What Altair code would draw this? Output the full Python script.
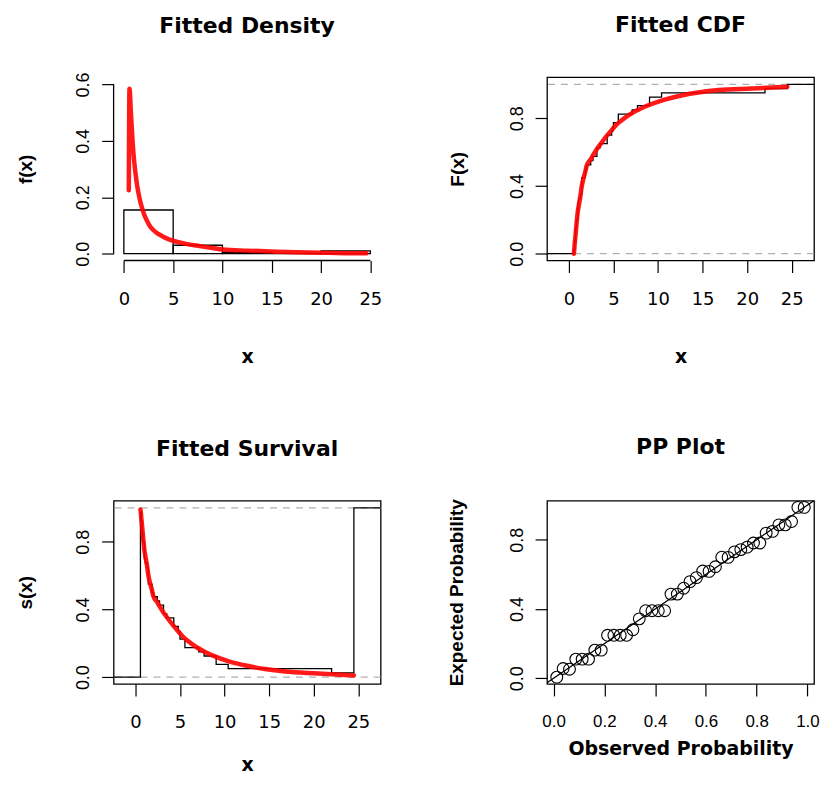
import altair as alt
import pandas as pd

# ---------------- data ----------------
# sorted sample (n = 40), read from the ECDF / survival steps and the PP plot
sample = [0.56, 0.65, 0.65, 0.75, 0.75, 0.75, 0.84, 0.84, 1.0, 1.0,
          1.0, 1.0, 1.1, 1.3, 1.45, 1.45, 1.45, 1.45, 1.85, 1.85,
          2.0, 2.45, 2.7, 3.15, 3.15, 3.5, 4.3, 4.3, 4.8, 4.95,
          5.0, 5.55, 5.55, 7.1, 7.7, 9.05, 9.05, 10.4, 22.0, 24.5]

# histogram (density scale)
hist_left = [0, 5, 10, 15, 20]
hist_right = [5, 10, 15, 20, 25]
hist_density = [0.155, 0.030, 0.005, 0.0, 0.010]

# fitted density curve
dens_x = [0.5, 0.53, 0.57, 0.62, 0.7, 0.8, 0.9, 1.04, 1.2, 1.37, 1.6, 1.81, 2.05, 2.31,
          2.6, 2.98, 3.5, 3.99, 4.5, 5.0, 6.3, 7.68, 9.0, 10.03, 12.5, 14.9, 17.5,
          19.95, 22.5, 24.6]
dens_y = [0.225, 0.45, 0.585, 0.57, 0.51, 0.448, 0.39, 0.33, 0.28, 0.236, 0.195, 0.166,
          0.14, 0.119, 0.1, 0.084, 0.07, 0.06, 0.052, 0.046, 0.035, 0.027, 0.02, 0.015,
          0.011, 0.008, 0.005, 0.0035, 0.002, 0.0015]

# fitted CDF curve
cdf_x = [0.56, 0.60, 0.65, 0.75, 0.86, 1.0, 1.1, 1.3, 1.42, 1.68, 1.85, 2.0, 2.45, 2.7,
         3.15, 3.5, 4.3, 4.8, 5.4, 5.75, 6.9, 7.7, 8.76, 10.4, 12.5, 14.5, 16.8, 20.5, 24.5]
cdf_y = [0.0, 0.02, 0.055, 0.11, 0.175, 0.248, 0.28, 0.343, 0.39, 0.453, 0.486, 0.52,
         0.558, 0.581, 0.619, 0.644, 0.699, 0.73, 0.765, 0.781, 0.825, 0.848, 0.874,
         0.905, 0.933, 0.952, 0.967, 0.976, 0.986]

# fitted survival curve
surv_x = [0.56, 0.60, 0.65, 0.75, 0.86, 1.0, 1.1, 1.3, 1.42, 1.68, 1.85, 2.0, 2.45, 2.7,
          3.15, 3.5, 4.3, 4.8, 5.4, 5.75, 6.9, 7.7, 8.76, 10.4, 12.5, 14.5, 16.8, 20.5, 24.5]
surv_y = [0.99, 0.975, 0.945, 0.89, 0.825, 0.752, 0.72, 0.657, 0.61, 0.547, 0.514, 0.48,
          0.442, 0.419, 0.381, 0.356, 0.301, 0.27, 0.235, 0.219, 0.175, 0.152, 0.126,
          0.095, 0.067, 0.048, 0.033, 0.022, 0.01]

# PP plot
pp_obs = [0.0125, 0.0375, 0.0625, 0.0875, 0.1125, 0.1375, 0.1625, 0.1875, 0.2125, 0.2375,
          0.2625, 0.2875, 0.3125, 0.3375, 0.3625, 0.3875, 0.4125, 0.4375, 0.4625, 0.4875,
          0.5125, 0.5375, 0.5625, 0.5875, 0.6125, 0.6375, 0.6625, 0.6875, 0.7125, 0.7375,
          0.7625, 0.7875, 0.8125, 0.8375, 0.8625, 0.8875, 0.9125, 0.9375, 0.9625, 0.9875]
pp_exp = [0.006, 0.056, 0.052, 0.11, 0.11, 0.11, 0.162, 0.162, 0.248, 0.248,
          0.248, 0.248, 0.28, 0.343, 0.39, 0.39, 0.39, 0.39, 0.486, 0.486,
          0.52, 0.558, 0.581, 0.619, 0.617, 0.644, 0.699, 0.698, 0.73, 0.743,
          0.757, 0.781, 0.781, 0.838, 0.848, 0.886, 0.886, 0.905, 0.987, 0.987]

# ---------------- derived tables ----------------
N = len(sample)
uniq = sorted(set(sample))
cnt = [sum(1 for s in sample if s <= u) for u in uniq]

XL, XR = -2.45, 27.5
ecdf_df = pd.DataFrame({"x": [XL] + uniq + [XR],
                        "y": [0.0] + [c / N for c in cnt] + [1.0]})
# survival step as drawn in the reference (jumps back to 1 at the maximum)
sv = [1 - c / N for c in cnt]
sv[-1] = 1.0
surv_step_df = pd.DataFrame({"x": [XL] + uniq + [XR], "y": [0.0] + sv + [1.0]})

hist_df = pd.DataFrame({"a": hist_left, "b": hist_right, "d": hist_density})
dens_df = pd.DataFrame({"x": dens_x, "y": dens_y})
cdf_df = pd.DataFrame({"x": cdf_x, "y": cdf_y})
surv_df = pd.DataFrame({"x": surv_x, "y": surv_y})
pp_df = pd.DataFrame({"o": pp_obs, "e": pp_exp})
ref_df = pd.DataFrame({"h": [0.0, 1.0]})
diag_df = pd.DataFrame({"x": [-0.1, 1.1], "y": [-0.1, 1.1]})

# ---------------- styling ----------------
W, H = 268, 184
RED = "#ff0000"
XFONT = "DejaVu Sans"
YFONT = "Liberation Sans"


def title(t, off=23):
    return alt.TitleParams(t, font=XFONT, fontSize=22, fontWeight="bold", color="black",
                           anchor="middle", frame="group", baseline="alphabetic", offset=off)


def xaxis(vals, fmt, ttl, ty=96, lfont=XFONT, lsize=18):
    return alt.Axis(values=vals, format=fmt, title=ttl, grid=False, domain=False,
                    ticks=True, tickSize=12, tickColor="black", tickWidth=1.2,
                    labelFont=lfont, labelFontSize=lsize, labelColor="black", labelPadding=18,
                    labelFlush=False, labelOverlap=False,
                    titleFont=XFONT, titleFontSize=19, titleFontWeight="bold",
                    titleColor="black", titleX=W / 2, titleY=ty, titleBaseline="middle",
                    titleAlign="center")


def yaxis(vals, fmt, ttl, expr, tx=-89):
    return alt.Axis(values=vals, format=fmt, title=ttl, grid=False, domain=False,
                    ticks=True, tickSize=12, tickColor="black", tickWidth=1.2,
                    labelFont=YFONT, labelFontSize=18, labelColor="black", labelPadding=9,
                    labelAngle=270, labelAlign="center", labelBaseline="bottom",
                    labelExpr=expr, labelFlush=False, labelOverlap=False,
                    titleFont=YFONT, titleFontSize=19, titleFontWeight="bold",
                    titleColor="black", titleAngle=270, titleX=tx, titleY=H / 2,
                    titleBaseline="middle", titleAlign="center")


xticks25 = [0, 5, 10, 15, 20, 25]
BOX = alt.ViewBackground(stroke="black", strokeWidth=1.3)
NOBOX = alt.ViewBackground(stroke="transparent", strokeWidth=0)

# ---------------- panel 1: fitted density ----------------
xs1 = alt.Scale(domain=[-1.04, 26.04], nice=False, zero=False)
ys1 = alt.Scale(domain=[-0.024, 0.626], nice=False, zero=False)
bars = alt.Chart(hist_df).mark_rect(fill="transparent", stroke="black", strokeWidth=1.3).encode(
    x=alt.X("a:Q", scale=xs1, axis=xaxis(xticks25, "d", "x")),
    x2="b:Q",
    y=alt.Y("d:Q", scale=ys1,
            axis=yaxis([0, 0.1, 0.2, 0.3, 0.4, 0.5, 0.6], ".1f", "f(x)",
                       "round(datum.value*10) % 2 == 0 ? datum.label : ''", tx=-88)),
    y2=alt.datum(0),
)
dens = alt.Chart(dens_df).mark_line(color=RED, strokeWidth=4.5, opacity=0.9,
                                    interpolate="monotone", strokeCap="round").encode(
    x=alt.X("x:Q", scale=xs1), y=alt.Y("y:Q", scale=ys1))
axx_df = pd.DataFrame({"a": [0], "b": [25]})
axy_df = pd.DataFrame({"a": [0.0], "b": [0.6]})
xline = alt.Chart(axx_df).mark_rule(color="black", strokeWidth=1.3).encode(
    x=alt.X("a:Q", scale=xs1), x2="b:Q", y=alt.value(H))
yline = alt.Chart(axy_df).mark_rule(color="black", strokeWidth=1.3).encode(
    y=alt.Y("a:Q", scale=ys1), y2="b:Q", x=alt.value(0))
p1 = alt.layer(bars, xline, yline, dens).properties(
    width=W, height=H, title=title("Fitted Density", off=17), view=NOBOX)

# ---------------- panel 2: fitted CDF ----------------
xs2 = alt.Scale(domain=[XL, XR], nice=False, zero=False)
ys2 = alt.Scale(domain=[-0.04, 1.043], nice=False, zero=False)
ylab = "round(datum.value*10) % 4 == 0 ? datum.label : ''"
ref2 = alt.Chart(ref_df).mark_rule(color="#b0b0b0", strokeDash=[7, 6], strokeWidth=1.3).encode(
    y=alt.Y("h:Q", scale=ys2,
            axis=yaxis([0, 0.2, 0.4, 0.6, 0.8, 1.0], ".1f", "F(x)", ylab, tx=-90)))
ecdf = alt.Chart(ecdf_df).mark_line(color="black", strokeWidth=1.3, interpolate="step-after",
                                    clip=True).encode(
    x=alt.X("x:Q", scale=xs2, axis=xaxis(xticks25, "d", "x")), y=alt.Y("y:Q", scale=ys2))
cdf = alt.Chart(cdf_df).mark_line(color=RED, strokeWidth=4.5, opacity=0.9,
                                  interpolate="monotone", strokeCap="round").encode(
    x=alt.X("x:Q", scale=xs2), y=alt.Y("y:Q", scale=ys2))
p2 = alt.layer(ref2, ecdf, cdf).properties(width=W, height=H, title=title("Fitted CDF"),
                                           view=BOX)

# ---------------- panel 3: fitted survival ----------------
ref3 = alt.Chart(ref_df).mark_rule(color="#b0b0b0", strokeDash=[7, 6], strokeWidth=1.3).encode(
    y=alt.Y("h:Q", scale=ys2,
            axis=yaxis([0, 0.2, 0.4, 0.6, 0.8, 1.0], ".1f", "s(x)", ylab, tx=-88)))
sstep = alt.Chart(surv_step_df).mark_line(color="black", strokeWidth=1.3,
                                          interpolate="step-after", clip=True).encode(
    x=alt.X("x:Q", scale=xs2, axis=xaxis(xticks25, "d", "x", ty=81)), y=alt.Y("y:Q", scale=ys2))
surv = alt.Chart(surv_df).mark_line(color=RED, strokeWidth=4.5, opacity=0.9,
                                    interpolate="monotone", strokeCap="round").encode(
    x=alt.X("x:Q", scale=xs2), y=alt.Y("y:Q", scale=ys2))
p3 = alt.layer(ref3, sstep, surv).properties(width=W, height=H,
                                             title=title("Fitted Survival"), view=BOX)

# ---------------- panel 4: PP plot ----------------
xs4 = alt.Scale(domain=[-0.026, 1.026], nice=False, zero=False)
ys4 = alt.Scale(domain=[-0.033, 1.026], nice=False, zero=False)
diag = alt.Chart(diag_df).mark_line(color="black", strokeWidth=1.2, clip=True).encode(
    x=alt.X("x:Q", scale=xs4,
            axis=xaxis([0, 0.2, 0.4, 0.6, 0.8, 1.0], ".1f", "Observed Probability", ty=65,
                       lfont=YFONT, lsize=17)),
    y=alt.Y("y:Q", scale=ys4,
            axis=yaxis([0, 0.2, 0.4, 0.6, 0.8, 1.0], ".1f", "Expected Probability", ylab,
                       tx=-91)))
pts = alt.Chart(pp_df).mark_point(shape="circle", filled=False, color="black", size=140,
                                  strokeWidth=1.1, opacity=1).encode(
    x=alt.X("o:Q", scale=xs4), y=alt.Y("e:Q", scale=ys4))
p4 = alt.layer(diag, pts).properties(width=W, height=H, title=title("PP Plot"), view=BOX)

chart = alt.concat(p1, p2, p3, p4, columns=2, spacing={"row": 241, "column": 167},
                   bounds="flush").properties(
    padding={"left": 8, "top": 4, "right": 0, "bottom": 0}
).configure(background="white")

chart.save("out.html", embed_options={"renderer": "svg", "actions": False})
